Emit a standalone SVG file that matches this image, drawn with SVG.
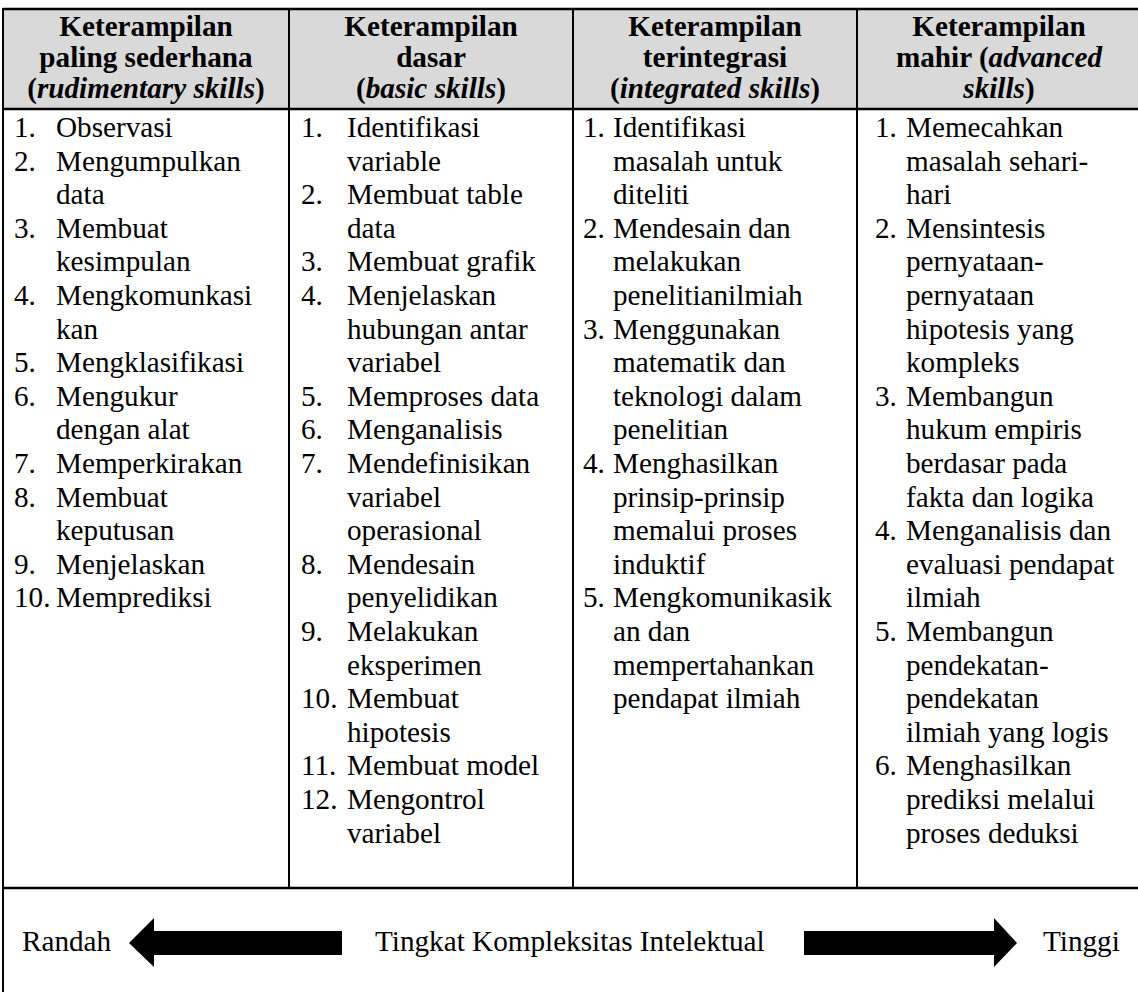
<svg xmlns="http://www.w3.org/2000/svg" width="1138" height="992" viewBox="0 0 1138 992">
<style>
text{font-family:"Liberation Serif","Times New Roman",serif;font-size:29.2px;fill:#000}
.h{font-weight:bold;text-anchor:middle}
.i{font-style:italic}
.ln{stroke:#000;stroke-width:2;fill:none}
.thk{stroke:#000;stroke-width:2.5;fill:none}
.arr{fill:#000;stroke:none}
</style>
<rect x="3" y="9" width="1140" height="100" fill="#d9d9d9"/>
<g id="grid">
<line class="thk" x1="3" y1="9" x2="1138" y2="9"/>
<line class="ln" x1="3" y1="8" x2="3" y2="992"/>
<line class="thk" x1="3" y1="109" x2="1138" y2="109"/>
<line class="thk" x1="3" y1="888" x2="1138" y2="888"/>
<line class="ln" x1="289" y1="9" x2="289" y2="888"/>
<line class="ln" x1="573" y1="9" x2="573" y2="888"/>
<line class="ln" x1="857" y1="9" x2="857" y2="888"/>
</g>
<g id="col1">
<text class="h" x="146" y="36">Keterampilan</text>
<text class="h" x="146" y="67">paling sederhana</text>
<text class="h" x="146" y="98">(<tspan class="i">rudimentary skills</tspan>)</text>
<text x="14" y="137">1.</text><text x="56" y="137">Observasi</text>
<text x="14" y="170.6">2.</text><text x="56" y="170.6">Mengumpulkan</text>
<text x="56" y="204.2">data</text>
<text x="14" y="237.8">3.</text><text x="56" y="237.8">Membuat</text>
<text x="56" y="271.4">kesimpulan</text>
<text x="14" y="305">4.</text><text x="56" y="305">Mengkomunkasi</text>
<text x="56" y="338.6">kan</text>
<text x="14" y="372.2">5.</text><text x="56" y="372.2">Mengklasifikasi</text>
<text x="14" y="405.8">6.</text><text x="56" y="405.8">Mengukur</text>
<text x="56" y="439.4">dengan alat</text>
<text x="14" y="473">7.</text><text x="56" y="473">Memperkirakan</text>
<text x="14" y="506.6">8.</text><text x="56" y="506.6">Membuat</text>
<text x="56" y="540.2">keputusan</text>
<text x="14" y="573.8">9.</text><text x="56" y="573.8">Menjelaskan</text>
<text x="14" y="607.4">10.</text><text x="56" y="607.4">Memprediksi</text>
</g>
<g id="col2">
<text class="h" x="431" y="36">Keterampilan</text>
<text class="h" x="431" y="67">dasar</text>
<text class="h" x="431" y="98">(<tspan class="i">basic skills</tspan>)</text>
<text x="301" y="137">1.</text><text x="347" y="137">Identifikasi</text>
<text x="347" y="170.6">variable</text>
<text x="301" y="204.2">2.</text><text x="347" y="204.2">Membuat table</text>
<text x="347" y="237.8">data</text>
<text x="301" y="271.4">3.</text><text x="347" y="271.4">Membuat grafik</text>
<text x="301" y="305">4.</text><text x="347" y="305">Menjelaskan</text>
<text x="347" y="338.6">hubungan antar</text>
<text x="347" y="372.2">variabel</text>
<text x="301" y="405.8">5.</text><text x="347" y="405.8">Memproses data</text>
<text x="301" y="439.4">6.</text><text x="347" y="439.4">Menganalisis</text>
<text x="301" y="473">7.</text><text x="347" y="473">Mendefinisikan</text>
<text x="347" y="506.6">variabel</text>
<text x="347" y="540.2">operasional</text>
<text x="301" y="573.8">8.</text><text x="347" y="573.8">Mendesain</text>
<text x="347" y="607.4">penyelidikan</text>
<text x="301" y="641">9.</text><text x="347" y="641">Melakukan</text>
<text x="347" y="674.6">eksperimen</text>
<text x="301" y="708.2">10.</text><text x="347" y="708.2">Membuat</text>
<text x="347" y="741.8">hipotesis</text>
<text x="301" y="775.4">11.</text><text x="347" y="775.4">Membuat model</text>
<text x="301" y="809">12.</text><text x="347" y="809">Mengontrol</text>
<text x="347" y="842.6">variabel</text>
</g>
<g id="col3">
<text class="h" x="715" y="36">Keterampilan</text>
<text class="h" x="715" y="67">terintegrasi</text>
<text class="h" x="715" y="98">(<tspan class="i">integrated skills</tspan>)</text>
<text x="583" y="137">1.</text><text x="613" y="137">Identifikasi</text>
<text x="613" y="170.6">masalah untuk</text>
<text x="613" y="204.2">diteliti</text>
<text x="583" y="237.8">2.</text><text x="613" y="237.8">Mendesain dan</text>
<text x="613" y="271.4">melakukan</text>
<text x="613" y="305">penelitianilmiah</text>
<text x="583" y="338.6">3.</text><text x="613" y="338.6">Menggunakan</text>
<text x="613" y="372.2">matematik dan</text>
<text x="613" y="405.8">teknologi dalam</text>
<text x="613" y="439.4">penelitian</text>
<text x="583" y="473">4.</text><text x="613" y="473">Menghasilkan</text>
<text x="613" y="506.6">prinsip-prinsip</text>
<text x="613" y="540.2">memalui proses</text>
<text x="613" y="573.8">induktif</text>
<text x="583" y="607.4">5.</text><text x="613" y="607.4">Mengkomunikasik</text>
<text x="613" y="641">an dan</text>
<text x="613" y="674.6">mempertahankan</text>
<text x="613" y="708.2">pendapat ilmiah</text>
</g>
<g id="col4">
<text class="h" x="999" y="36">Keterampilan</text>
<text class="h" x="999" y="67">mahir (<tspan class="i">advanced</tspan></text>
<text class="h" x="999" y="98"><tspan class="i">skills</tspan>)</text>
<text x="875" y="137">1.</text><text x="906" y="137">Memecahkan</text>
<text x="906" y="170.6">masalah sehari-</text>
<text x="906" y="204.2">hari</text>
<text x="875" y="237.8">2.</text><text x="906" y="237.8">Mensintesis</text>
<text x="906" y="271.4">pernyataan-</text>
<text x="906" y="305">pernyataan</text>
<text x="906" y="338.6">hipotesis yang</text>
<text x="906" y="372.2">kompleks</text>
<text x="875" y="405.8">3.</text><text x="906" y="405.8">Membangun</text>
<text x="906" y="439.4">hukum empiris</text>
<text x="906" y="473">berdasar pada</text>
<text x="906" y="506.6">fakta dan logika</text>
<text x="875" y="540.2">4.</text><text x="906" y="540.2">Menganalisis dan</text>
<text x="906" y="573.8">evaluasi pendapat</text>
<text x="906" y="607.4">ilmiah</text>
<text x="875" y="641">5.</text><text x="906" y="641">Membangun</text>
<text x="906" y="674.6">pendekatan-</text>
<text x="906" y="708.2">pendekatan</text>
<text x="906" y="741.8">ilmiah yang logis</text>
<text x="875" y="775.4">6.</text><text x="906" y="775.4">Menghasilkan</text>
<text x="906" y="809">prediksi melalui</text>
<text x="906" y="842.6">proses deduksi</text>
</g>
<g id="scale">
<text x="22" y="951">Randah</text>
<text x="375" y="951">Tingkat Kompleksitas Intelektual</text>
<text x="1043" y="951">Tinggi</text>
</g>
<g id="connectors">
<polygon class="arr" points="129,943 154,918 154,931 342,931 342,955 154,955 154,967"/>
<polygon class="arr" points="1017,943 994,918 994,931 804,931 804,955 994,955 994,967"/>
</g>
</svg>
